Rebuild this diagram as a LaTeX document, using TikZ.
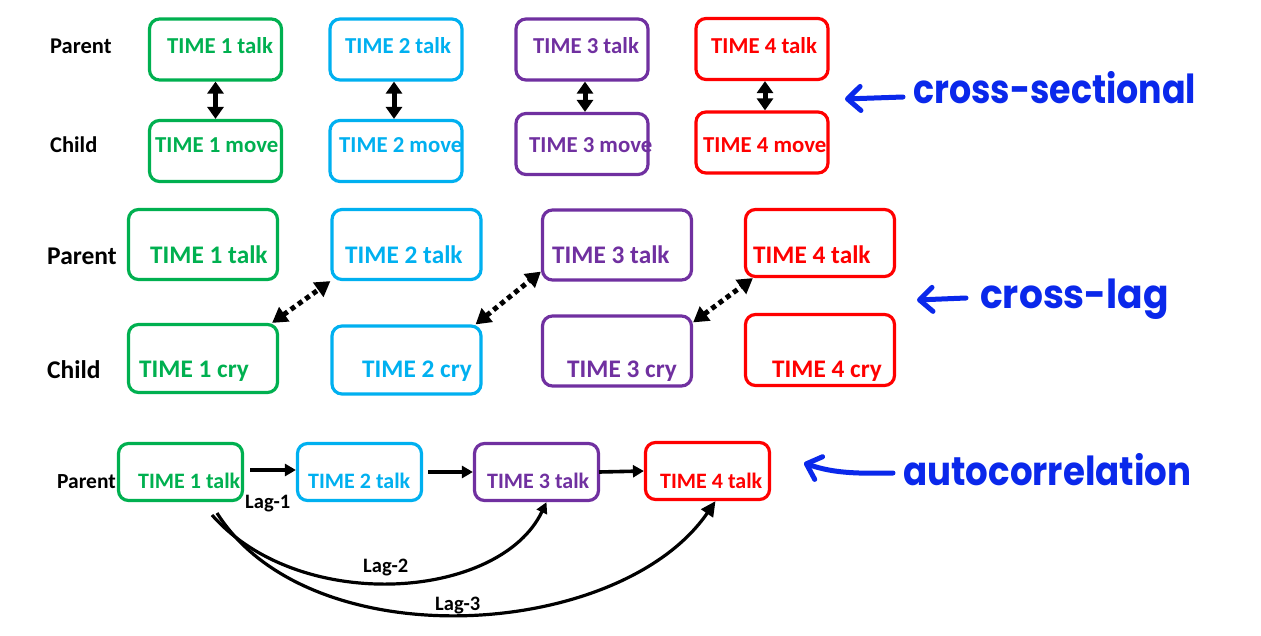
\documentclass[tikz,border=0pt]{standalone}
\usepackage{fontspec}
\setmainfont{Carlito}
\newfontfamily\handfont{Poppins}
\usetikzlibrary{arrows.meta}
\definecolor{cgreen}{RGB}{0,176,80}
\definecolor{cblue}{RGB}{0,176,240}
\definecolor{cpurple}{RGB}{112,48,160}
\definecolor{cred}{RGB}{255,0,0}
\definecolor{hand}{RGB}{10,40,235}
\begin{document}
\begin{tikzpicture}[x=1pt,y=-1pt,
  box/.style={draw=#1, line width=3.2pt, rounded corners=10pt, inner sep=0pt},
  boxA/.style={box=#1, minimum width=132pt, minimum height=61pt},
  boxB/.style={box=#1, minimum width=149pt, minimum height=70pt},
  boxC/.style={box=#1, minimum width=124pt, minimum height=57pt},
  txt/.style={anchor=base west, inner sep=0pt, font=\bfseries\fontsize{#1}{#1}\selectfont},
  lbl/.style={txt=#1, text=black},
  vdarrow/.style={line width=5pt, {Triangle[length=12pt,width=16pt]}-{Triangle[length=12pt,width=16pt]}},
  dotarrow/.style={line width=5pt, dash pattern=on 5pt off 4pt, {Triangle[length=15pt,width=17pt]}-{Triangle[length=15pt,width=17pt]}},
  harrow/.style={line width=3.6pt, -{Triangle[length=11pt,width=12pt]}},
  lagarrow/.style={line width=3.2pt, -{Triangle[length=11pt,width=11pt]}},
  handtxt/.style={anchor=base west, inner sep=0pt, text=hand, font=\handfont\bfseries\fontsize{40}{40}\selectfont},
  handarrow/.style={draw=hand, line width=5pt, line cap=round, line join=round, -{Straight Barb[length=13pt,width=24pt,line cap=round,line join=round]}}
]
\useasboundingbox (0,0) rectangle (1261,635);
\fill[white] (0,0) rectangle (1261,635);

% ---------------- Row 1: cross-sectional ----------------
\node[lbl=22.5] (par1) at (50,53) {Parent};
\node[lbl=22.5] (chi1) at (50,152) {Child};

\node[boxA=cgreen] (gt1) at (215.5,49.5) {};
\node[boxA=cgreen] (gm1) at (215.5,151) {};
\node[boxA=cblue] (bt1) at (396,49.5) {};
\node[boxA=cblue] (bm1) at (396,151) {};
\node[boxA=cpurple] (pt1) at (582,49.5) {};
\node[boxA=cpurple] (pm1) at (582,144) {};
\node[boxA=cred] (rt1) at (762,49) {};
\node[boxA=cred] (rm1) at (762,142.5) {};

\node[txt=22.8, text=cgreen] (tgt1) at (167,53) {TIME 1 talk};
\node[txt=22.8, text=cgreen] (tgm1) at (155,152) {TIME 1 move};
\node[txt=22.8, text=cblue] (tbt1) at (345,53) {TIME 2 talk};
\node[txt=22.8, text=cblue] (tbm1) at (339,152) {TIME 2 move};
\node[txt=22.8, text=cpurple] (tpt1) at (533,53) {TIME 3 talk};
\node[txt=22.8, text=cpurple] (tpm1) at (529,152) {TIME 3 move};
\node[txt=22.8, text=cred] (trt1) at (711,53) {TIME 4 talk};
\node[txt=22.8, text=cred] (trm1) at (703,152) {TIME 4 move};

\draw[vdarrow] (gt1.south) -- (gm1.north);
\draw[vdarrow] ([xshift=-2pt]bt1.south) -- ([xshift=-2pt]bm1.north);
\draw[vdarrow] ([xshift=3pt]pt1.south) -- ([xshift=3pt]pm1.north);
\draw[vdarrow] ([xshift=3pt]rt1.south) -- ([xshift=3pt]rm1.north);

% ---------------- Row 2: cross-lag ----------------
\node[lbl=25.5] (par2) at (47,264) {Parent};
\node[lbl=25.5] (chi2) at (47,378) {Child};

\node[boxB=cgreen] (gt2) at (203,244.5) {};
\node[boxB=cgreen, minimum height=68pt] (gc2) at (203,358.5) {};
\node[boxB=cblue] (bt2) at (406.5,244.5) {};
\node[boxB=cblue, minimum height=68pt] (bc2) at (406.5,360) {};
\node[boxB=cpurple] (pt2) at (617,245) {};
\node[boxB=cpurple] (pc2) at (617,351) {};
\node[boxB=cred, minimum height=67pt] (rt2) at (820,243) {};
\node[boxB=cred, minimum height=71pt] (rc2) at (820,350) {};

\node[txt=25.3, text=cgreen] (tgt2) at (150,263) {TIME 1 talk};
\node[txt=25.3, text=cgreen] (tgc2) at (139,377) {TIME 1 cry};
\node[txt=25.3, text=cblue] (tbt2) at (345,263) {TIME 2 talk};
\node[txt=25.3, text=cblue] (tbc2) at (362,377) {TIME 2 cry};
\node[txt=25.3, text=cpurple] (tpt2) at (552,263) {TIME 3 talk};
\node[txt=25.3, text=cpurple] (tpc2) at (567,377) {TIME 3 cry};
\node[txt=25.3, text=cred] (trt2) at (753,263) {TIME 4 talk};
\node[txt=25.3, text=cred] (trc2) at (772,377) {TIME 4 cry};

\draw[dotarrow] ([xshift=-7pt]gc2.north east) -- (bt2.south west);
\draw[dotarrow] ([xshift=-7pt]bc2.north east) -- ([yshift=10pt]pt2.south west);
\draw[dotarrow] ([yshift=-8pt]pc2.north east) -- ([xshift=9pt]rt2.south west);

% ---------------- Row 3: autocorrelation ----------------
\node[lbl=21.5] (par3) at (57,488) {Parent};

\node[boxC=cgreen] (g3) at (180.5,472) {};
\node[boxC=cblue] (b3) at (359.5,472) {};
\node[boxC=cpurple] (p3) at (536.5,472) {};
\node[boxC=cred] (r3) at (707.5,471) {};

\node[txt=22, text=cgreen] (tg3) at (138,488) {TIME 1 talk};
\node[txt=22, text=cblue] (tb3) at (308,488) {TIME 2 talk};
\node[txt=22, text=cpurple] (tp3) at (487,488) {TIME 3 talk};
\node[txt=22, text=cred] (tr3) at (660,488) {TIME 4 talk};

\draw[harrow] ([xshift=6pt,yshift=2pt]g3.east) -- ([yshift=2pt]b3.west);
\draw[harrow] ([xshift=5pt]b3.east) -- (p3.west);
\draw[harrow] ([xshift=-1pt]p3.east) -- (r3.west);

\node[lbl=20.5] (lag1) at (245,508) {Lag-1};
\node[lbl=20.5] (lag2) at (363,572) {Lag-2};
\node[lbl=20.5] (lag3) at (435,610) {Lag-3};

\coordinate (s2) at (212,515);
\coordinate (s3) at (217,513);
\draw[lagarrow] (s2) .. controls (300,615) and (500,600) .. ([xshift=10pt]p3.south);
\draw[line width=3.2pt, -{Triangle[length=15pt,width=14pt]}] (s3) .. controls (310,660) and (620,640) .. ([xshift=8pt]r3.south);

% ---------------- handwritten annotations ----------------
\node[handtxt] (hcs) at (913,103) {\scalebox{0.87}[1]{cross-sectional}};
\node[handtxt] (hcl) at (980,308) {\scalebox{0.94}[1]{cross-lag}};
\node[handtxt] (hac) at (903,485) {\scalebox{0.89}[1]{autocorrelation}};

\coordinate (a1s) at (903,97);
\coordinate (a1e) at (845,99);
\coordinate (a2s) at (966,298);
\coordinate (a2e) at (917,300);
\coordinate (a3s) at (893,473);
\coordinate (a3e) at (804,463);
\draw[handarrow] (a1s) -- (a1e);
\draw[handarrow] (a2s) -- (a2e);
\draw[handarrow] (a3s) .. controls (850,474) and (830,472) .. (a3e);
\end{tikzpicture}
\end{document}
